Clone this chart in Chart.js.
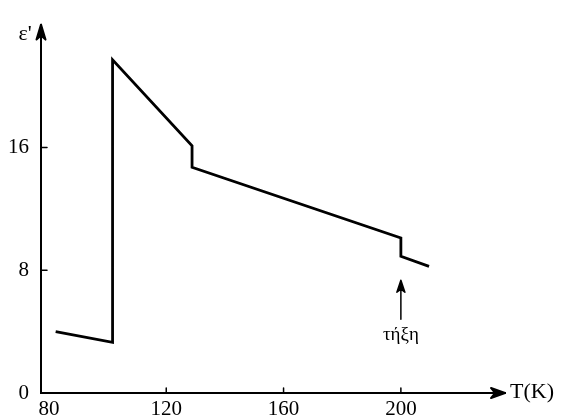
<!DOCTYPE html>
<html><head><meta charset="utf-8">
<script src="https://cdn.jsdelivr.net/npm/chart.js@4"></script>
<style>html,body{margin:0;padding:0;background:#fff}#wrap{width:561px;height:418px}</style>
</head><body><div id="wrap"><canvas id="c" width="561" height="418"></canvas></div>
<script>
// Data
const temperatureK = [82.3, 101.7, 101.7, 128.8, 128.8, 200, 200, 209.6];
const permittivity = [4.0, 3.3, 21.7, 16.1, 14.7, 10.1, 8.9, 8.25];
const xTickValues = [80, 120, 160, 200];
const yTickValues = [0, 8, 16];
const xAxisTitle = 'T(K)';
const yAxisTitle = "ε'";
const meltingLabel = 'τήξη';
const meltingT = 200;
const meltingArrowRange = [4.8, 7.35];

const FONT = "'Liberation Serif', 'DejaVu Serif', serif";

function seg(ctx, x1, y1, x2, y2) { ctx.beginPath(); ctx.moveTo(x1, y1); ctx.lineTo(x2, y2); ctx.stroke(); }

const decorations = {
  id: 'decorations',
  afterDraw(chart) {
    const { ctx, chartArea: a, scales: { x, y } } = chart;
    ctx.save();
    ctx.strokeStyle = '#000'; ctx.fillStyle = '#000';
    ctx.lineWidth = 2; ctx.lineCap = 'round'; ctx.lineJoin = 'round';
    // y axis arrowhead (narrow, filled)
    ctx.beginPath(); ctx.moveTo(a.left, a.top); ctx.lineTo(a.left - 4.5, a.top + 15); ctx.lineTo(a.left, a.top + 11); ctx.lineTo(a.left + 4.5, a.top + 15); ctx.closePath(); ctx.fill(); ctx.stroke();
    // x axis arrowhead
    ctx.beginPath(); ctx.moveTo(a.right, a.bottom); ctx.lineTo(a.right - 14, a.bottom - 5); ctx.lineTo(a.right - 10, a.bottom); ctx.lineTo(a.right - 14, a.bottom + 5); ctx.closePath(); ctx.fill(); ctx.stroke();
    // inward tick marks
    ctx.lineWidth = 1.5;
    yTickValues.forEach(v => { if (v === 0) return; const py = y.getPixelForValue(v); seg(ctx, a.left, py, a.left + 6, py); });
    xTickValues.forEach(v => { if (v === 80) return; const px = x.getPixelForValue(v); seg(ctx, px, a.bottom, px, a.bottom - 5); });
    // melting arrow
    const mx = x.getPixelForValue(meltingT);
    const yb = y.getPixelForValue(meltingArrowRange[0]);
    const yt = y.getPixelForValue(meltingArrowRange[1]);
    ctx.lineWidth = 1.5;
    seg(ctx, mx, yb, mx, yt + 4);
    ctx.lineWidth = 1.5;
    ctx.beginPath(); ctx.moveTo(mx, yt); ctx.lineTo(mx - 4, yt + 12); ctx.lineTo(mx, yt + 9); ctx.lineTo(mx + 4, yt + 12); ctx.closePath(); ctx.fill(); ctx.stroke();
    // texts
    ctx.textBaseline = 'middle';
    ctx.font = '19px ' + FONT;
    ctx.textAlign = 'center';
    ctx.fillText(meltingLabel, mx, yb + 16);
    ctx.font = '22px ' + FONT;
    ctx.fillText(yAxisTitle, a.left - 16, a.top + 10);
    ctx.textAlign = 'left';
    ctx.fillText(xAxisTitle, a.right + 5, a.bottom - 1);
    ctx.restore();
  }
};

new Chart(document.getElementById('c'), {
  type: 'scatter',
  data: {
    datasets: [{
      data: temperatureK.map((t, i) => ({ x: t, y: permittivity[i] })),
      showLine: true,
      borderColor: '#000',
      borderWidth: 2.8,
      pointRadius: 0,
      tension: 0,
      fill: false
    }]
  },
  options: {
    responsive: false,
    animation: false,
    devicePixelRatio: 1,
    layout: { padding: { left: 0, top: 12, right: 56, bottom: 0 } },
    plugins: { legend: { display: false }, tooltip: { enabled: false } },
    scales: {
      x: {
        type: 'linear', min: 77.3, max: 235.5,
        afterBuildTicks: s => { s.ticks = xTickValues.map(v => ({ value: v })); },
        afterFit: s => { s.height = 25; },
        grid: { display: false, drawTicks: false },
        border: { display: true, color: '#000', width: 2 },
        ticks: { color: '#000', font: { family: FONT, size: 21 }, padding: 4, maxRotation: 0, autoSkip: false }
      },
      y: {
        type: 'linear', min: 0, max: 24,
        afterBuildTicks: s => { s.ticks = yTickValues.map(v => ({ value: v })); },
        afterFit: s => { s.width = 41; },
        grid: { display: false, drawTicks: false },
        border: { display: true, color: '#000', width: 2 },
        ticks: { color: '#000', font: { family: FONT, size: 21 }, padding: 12 }
      }
    }
  },
  plugins: [decorations]
});
</script>
</body></html>
